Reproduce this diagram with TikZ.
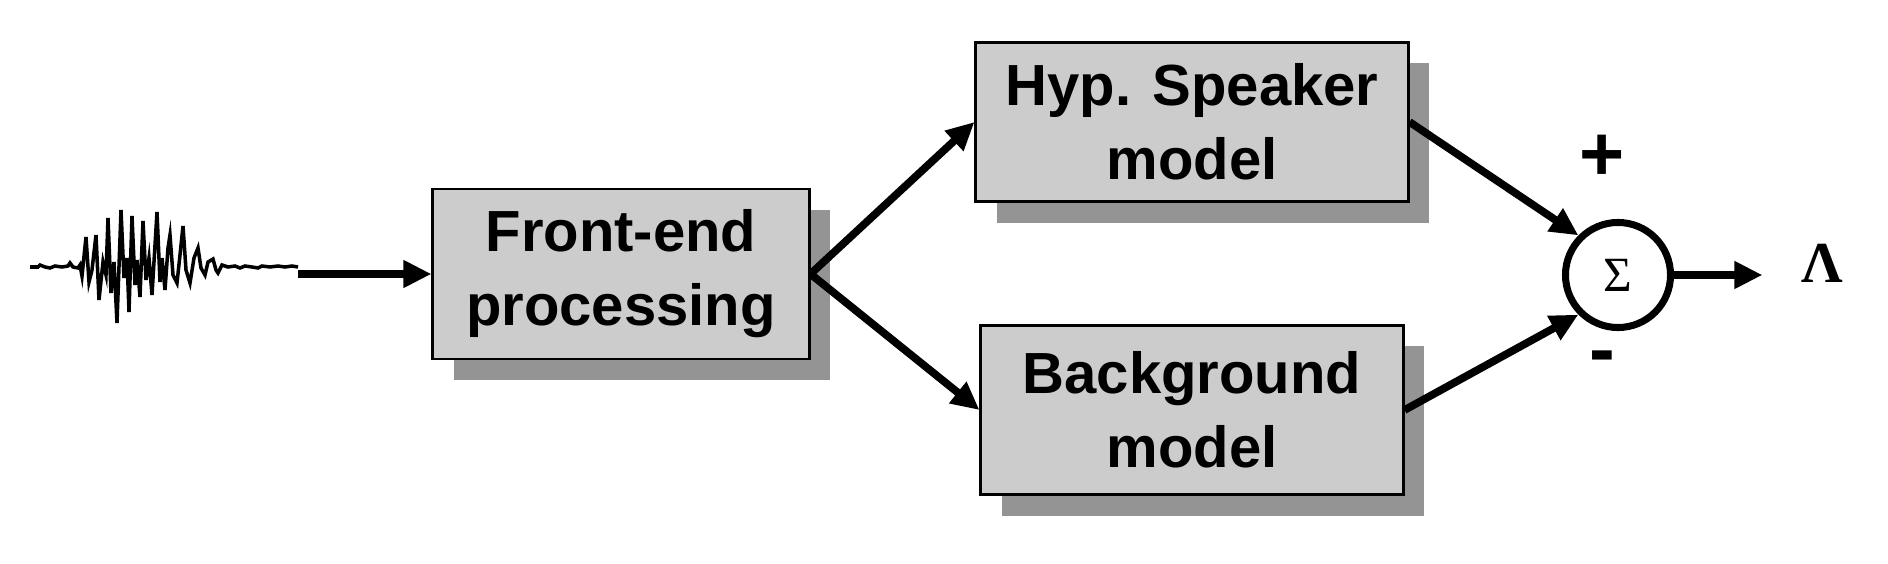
\documentclass[tikz,border=0pt]{standalone}
\usepackage{fontspec}
\setmainfont{Liberation Sans}
\newfontfamily\greekserif{Liberation Serif}
\usetikzlibrary{arrows.meta,shadows}

\begin{document}
\begin{tikzpicture}[x=0.01cm, y=-0.01cm]

        % 样式
        \tikzstyle{block} = [rectangle, minimum width=3.8cm, minimum height=1.7cm, text centered, align=center, draw=black, line width=0.8pt, fill=black!20, font=\fontsize{16.5}{21}\selectfont\bfseries, drop shadow={shadow xshift=0.21cm, shadow yshift=-0.21cm, fill=black!42, opacity=1}]
        \tikzstyle{summer} = [circle, minimum size=1.05cm, inner sep=0pt, draw=black, line width=2pt, font=\greekserif\fontsize{14}{14}\selectfont]
        \tikzstyle{sign} = [inner sep=0pt, font=\fontsize{22}{22}\selectfont\bfseries]
        \tikzstyle{arrow} = [line width=2.2pt, -{Triangle[length=0.28cm, width=0.26cm]}]
        \tikzstyle{wave} = [line width=1pt]

        \useasboundingbox (0,0) rectangle (1888,564);

        % 语音波形
        \draw [wave] plot coordinates {(30,267) (38,267) (40,265) (45,267) (50,268) (55,266) (62,267) (68,266) (70,263) (73,267) (78,268) (80,265) (82,276) (86,237) (89,282) (92,270) (96,235) (99,300) (103,262) (106,275) (108,218) (111,293) (114,262) (117,323) (121,210) (124,278) (127,258) (129,312) (132,216) (135,285) (137,260) (140,297) (143,221) (146,280) (149,258) (152,295) (157,212) (160,282) (162,258) (165,290) (168,248) (170,235) (173,275) (177,283) (180,255) (183,226) (186,270) (190,283) (194,258) (198,248) (201,268) (205,275) (208,262) (213,259) (216,270) (218,273) (222,265) (228,267) (235,266) (240,268) (245,266) (252,267) (258,268) (262,266) (270,267) (278,266) (285,267) (292,266) (298,267)};
        \coordinate (waveend) at (298,274);

        % 方框与求和
        \node (front) [block, minimum width=3.76cm, minimum height=1.70cm] at (621,274) {Front-end\\processing};
        \node (hyp) [block, minimum width=4.32cm, minimum height=1.59cm] at (1192,122) {Hyp. Speaker\\model};
        \node (bkg) [block, minimum width=4.22cm, minimum height=1.69cm] at (1192,410) {Background\\model};
        \node (sum) [summer] at (1618,275) {Σ};
        \node (plus) [sign] at (1602,158) {+};
        \node (minus) [sign] at (1602,363) {-};
        \node (lambda) [inner sep=0pt, font=\greekserif\bfseries\fontsize{16.5}{16.5}\selectfont] at (1822,263) {Λ};

        % 箭头
        \draw [arrow, line width=2.5pt] (waveend) -- (front.west);
        \draw [arrow] (front.east) -- (hyp.west);
        \draw [arrow] (front.east) -- (bkg.west);
        \draw [arrow] (hyp.east) -- (sum.135);
        \draw [arrow] (bkg.east) -- (sum.-135);
        \draw [arrow, shorten >=0.38cm] (sum.east) -- (sum.east -| lambda.west);

\end{tikzpicture}
\end{document}
